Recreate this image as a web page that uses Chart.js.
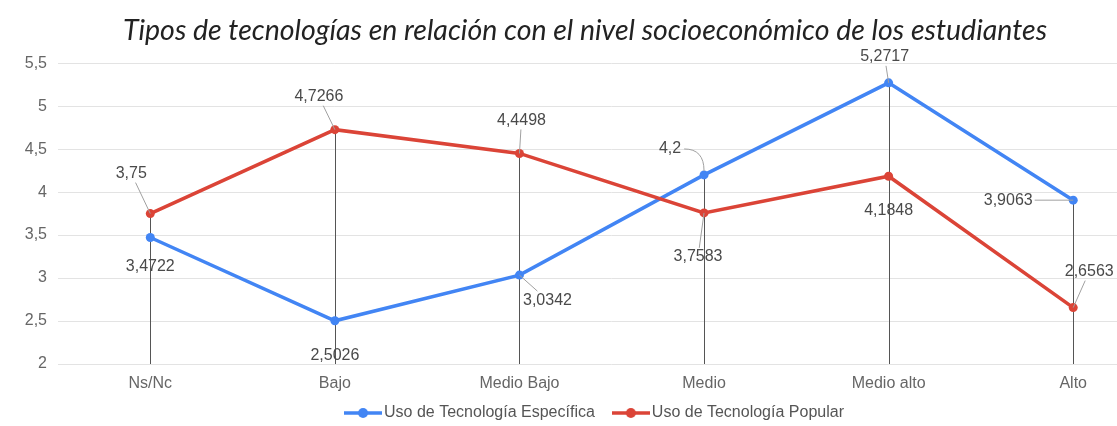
<!DOCTYPE html>
<html><head><meta charset="utf-8">
<script src="https://cdn.jsdelivr.net/npm/chart.js@4.4.1/dist/chart.umd.min.js"></script>
<style>html,body{margin:0;padding:0;background:#fff;overflow:hidden}
#wrap{width:1170px;height:426px;position:relative}</style>
</head><body><div id="wrap"><canvas id="c"></canvas></div>
<script>
const categories = ['Ns/Nc', 'Bajo', 'Medio Bajo', 'Medio', 'Medio alto', 'Alto'];
const seriesNames = ['Uso de Tecnología Específica', 'Uso de Tecnología Popular'];
const especifica = [3.4722, 2.5026, 3.0342, 4.2, 5.2717, 3.9063];
const popular = [3.75, 4.7266, 4.4498, 3.7583, 4.1848, 2.6563];
const yTicks = [2, 2.5, 3, 3.5, 4, 4.5, 5, 5.5];
const chartTitle = 'Tipos de tecnologías en relación con el nivel socioeconómico de los estudiantes';

const colors = ['#4285f4', '#db4437'];
const FONT = "'Liberation Sans', Arial, sans-serif";
// label placement (style only): label centre offset from its point + leader type
const labelPlacement = [
  [{dx:0,dy:29,lead:null},{dx:0,dy:35,lead:null},{dx:28,dy:25,lead:'line'},{dx:-34,dy:-26,lead:'curve'},{dx:-4,dy:-26,lead:'line'},{dx:-65,dy:0,lead:'line'}],
  [{dx:-19,dy:-40,lead:'line'},{dx:-16,dy:-33,lead:'line'},{dx:2,dy:-33,lead:'line'},{dx:-6,dy:44,lead:'line'},{dx:0,dy:34,lead:null},{dx:16,dy:-36,lead:'line'}]
];
const X_AXIS_H = 28;
const LEGEND_H = 34;
const LEGEND_SHIFT_X = 12;
const LEGEND_SHIFT_Y = -10;

const fmt = v => String(v).replace('.', ',');

function marker(color) {
  const c = document.createElement('canvas');
  c.width = 38; c.height = 12;
  const g = c.getContext('2d');
  g.strokeStyle = color; g.lineWidth = 3.5;
  g.beginPath(); g.moveTo(0, 6); g.lineTo(38, 6); g.stroke();
  g.fillStyle = color;
  g.beginPath(); g.arc(19, 6, 5, 0, Math.PI * 2); g.fill();
  return c;
}
const markers = colors.map(marker);

const dropLines = {
  id: 'dropLines',
  beforeDatasetsDraw(chart) {
    const {ctx, scales: {x, y}} = chart;
    ctx.save();
    ctx.strokeStyle = '#555'; ctx.lineWidth = 1;
    categories.forEach((c, i) => {
      const top = Math.max(especifica[i], popular[i]);
      const px = Math.round(x.getPixelForValue(i)) + 0.5;
      ctx.beginPath();
      ctx.moveTo(px, y.getPixelForValue(top));
      ctx.lineTo(px, y.getPixelForValue(yTicks[0]));
      ctx.stroke();
    });
    ctx.restore();
  }
};

const dataLabels = {
  id: 'dataLabels',
  afterDatasetsDraw(chart) {
    const ctx = chart.ctx;
    ctx.save();
    ctx.font = '16px ' + FONT;
    ctx.textAlign = 'center'; ctx.textBaseline = 'middle';
    chart.data.datasets.forEach((ds, di) => {
      const meta = chart.getDatasetMeta(di);
      meta.data.forEach((el, i) => {
        const txt = fmt(ds.data[i]);
        const pl = labelPlacement[di][i];
        const w = ctx.measureText(txt).width;
        const cx = el.x + pl.dx, cy = el.y + pl.dy;
        ctx.strokeStyle = '#a0a0a0'; ctx.lineWidth = 1;
        if (pl.lead === 'line') {
          const vx = el.x - cx, vy = el.y - cy;
          const hw = w / 2 + 2, hh = 9;
          const t = Math.min(vx ? hw / Math.abs(vx) : Infinity, vy ? hh / Math.abs(vy) : Infinity);
          ctx.beginPath();
          ctx.moveTo(cx + vx * t, cy + vy * t);
          ctx.lineTo(el.x, el.y);
          ctx.stroke();
        } else if (pl.lead === 'curve') {
          const sx = cx + w / 2 + 3;
          ctx.beginPath();
          ctx.moveTo(sx, cy);
          ctx.quadraticCurveTo(el.x, cy, el.x, el.y - 4);
          ctx.stroke();
        }
        ctx.fillStyle = '#4a4a4a';
        ctx.fillText(txt, cx, cy);
      });
    });
    ctx.restore();
  }
};

const legendTweak = {
  id: 'legendTweak',
  beforeLayout(chart) {
    const lg = chart.legend;
    if (lg && !lg._fixedH) {
      const origFit = lg.fit.bind(lg);
      lg.fit = function () { origFit(); this.height = LEGEND_H; };
      lg._fixedH = true;
    }
  },
  afterLayout(chart) {
    const lg = chart.legend;
    if (lg) {
      lg.left += LEGEND_SHIFT_X; lg.right += LEGEND_SHIFT_X;
      lg.top += LEGEND_SHIFT_Y;
    }
  }
};

new Chart(document.getElementById('c'), {
  type: 'line',
  data: {
    labels: categories,
    datasets: [
      {label: seriesNames[0], data: especifica, borderColor: colors[0], backgroundColor: colors[0],
       borderWidth: 3.5, pointRadius: 4.5, pointBorderWidth: 0, tension: 0, order: 1},
      {label: seriesNames[1], data: popular, borderColor: colors[1], backgroundColor: colors[1],
       borderWidth: 3.5, pointRadius: 4.5, pointBorderWidth: 0, tension: 0, order: 0}
    ]
  },
  options: {
    responsive: true, maintainAspectRatio: false, animation: false,
    layout: {padding: {left: 0, right: 0, top: 0, bottom: 0}},
    plugins: {
      title: {display: true, text: chartTitle, color: '#222',
        font: {family: 'Lato', style: 'italic', weight: 'normal', size: 28.5, lineHeight: 1.2},
        padding: {top: 14, bottom: 15}},
      legend: {position: 'bottom',
        labels: {usePointStyle: true, pointStyleWidth: 26, boxHeight: 12, padding: 23, color: '#555',
          font: {family: FONT, size: 16},
          sort: (a, b) => a.datasetIndex - b.datasetIndex,
          generateLabels: chart => Chart.defaults.plugins.legend.labels.generateLabels(chart)
            .map(l => Object.assign(l, {pointStyle: markers[l.datasetIndex]}))}},
      tooltip: {enabled: false}
    },
    scales: {
      x: {type: 'category', offset: true,
        afterFit: s => { s.height = X_AXIS_H; },
        grid: {display: false, drawTicks: false}, border: {display: false},
        ticks: {color: '#666', font: {family: FONT, size: 16}, padding: 10, maxRotation: 0, autoSkip: false}},
      y: {min: yTicks[0], max: yTicks[yTicks.length - 1],
        afterBuildTicks: s => { s.ticks = yTicks.map(v => ({value: v})); },
        afterFit: s => { s.width = 58; },
        grid: {color: '#e3e3e3', drawTicks: false}, border: {display: false},
        ticks: {color: '#666', font: {family: FONT, size: 16}, padding: 11, callback: v => fmt(v)}}
    }
  },
  plugins: [dropLines, dataLabels, legendTweak]
});
</script></body></html>
